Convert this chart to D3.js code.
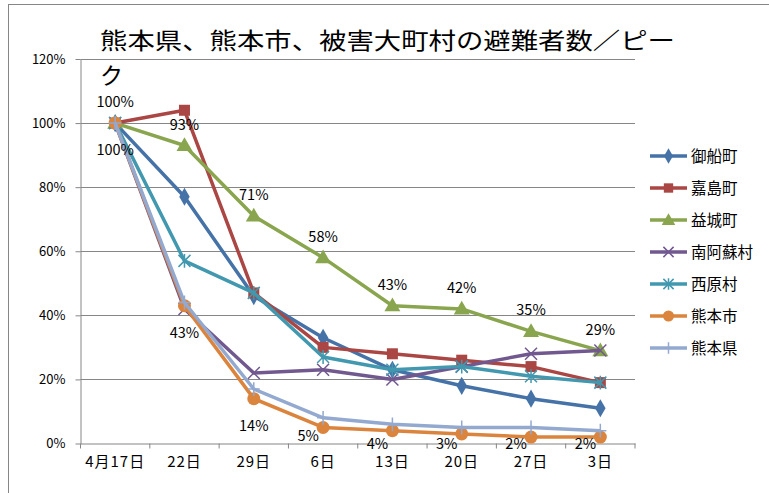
<!DOCTYPE html>
<html><head><meta charset="utf-8">
<script src="https://cdn.jsdelivr.net/npm/d3@7/dist/d3.min.js"></script>
<style>body{margin:0;background:#fff}svg{display:block}text{font-family:"Noto Sans CJK JP","Noto Sans",sans-serif}</style>
</head><body><div id="chart"></div>
<script>
const categories = ["4月17日","22日","29日","6日","13日","20日","27日","3日"];
const seriesNames = ["御船町","嘉島町","益城町","南阿蘇村","西原村","熊本市","熊本県"];
const mifune    = [100, 77, 46, 33, 23, 18, 14, 11];
const kashima   = [100, 104, 47, 30, 28, 26, 24, 19];
const mashiki   = [100, 93, 71, 58, 43, 42, 35, 29];
const minamiaso = [100, 42, 22, 23, 20, 24, 28, 29];
const nishihara = [100, 57, 47, 27, 23, 24, 21, 19];
const kumamotoCity = [100, 43, 14, 5, 4, 3, 2, 2];
const kumamotoPref = [100, 44, 17, 8, 6, 5, 5, 4];
const yTicks = [0, 20, 40, 60, 80, 100, 120];
const titleLine1 = "熊本県、熊本市、被害大町村の避難者数／ピー";
const titleLine2 = "ク";

const colors = ["#4572A7","#AA4643","#89A54E","#71588F","#4198AF","#DB843D","#93A9CF"];
const markers = ["diamond","square","triangle","x","asterisk","circle","plus"];
const values = [mifune,kashima,mashiki,minamiaso,nishihara,kumamotoCity,kumamotoPref];

(function () {
const W = 769, H = 493;
const svg = d3.select("#chart").append("svg").attr("width", W).attr("height", H);
svg.append("rect").attr("x",8.5).attr("y",4.5).attr("width",W+10).attr("height",H+10)
  .attr("fill","#fff").attr("stroke","#868686").attr("stroke-width",1);

const pL = 80.5, pR = 635, pT = 59, pB = 443.5;
const x = d3.scaleBand().domain(categories).range([pL, pR]);
const y = d3.scaleLinear().domain([0, 120]).range([pB, pT]);

// gridlines
svg.append("g").selectAll("line").data(yTicks.filter(d => d > 0)).join("line")
  .attr("x1", pL).attr("x2", pR)
  .attr("y1", d => Math.round(y(d)) + 0.5).attr("y2", d => Math.round(y(d)) + 0.5)
  .attr("stroke", "#868686").attr("stroke-width", 1);

// y axis
const yAxis = svg.append("g").attr("transform", `translate(${pL},0)`)
  .call(d3.axisLeft(y).tickValues(yTicks).tickFormat(d => d + "%").tickSize(5).tickSizeOuter(0));
yAxis.select(".domain").attr("stroke", "#868686");
yAxis.selectAll(".tick line").attr("stroke", "#868686");
yAxis.selectAll(".tick text").attr("font-size", 13).attr("fill", "#000").attr("x", -15)
  .attr("font-family", "'Open Sans','Noto Sans',sans-serif");

// x axis
const xAxis = svg.append("g").attr("transform", `translate(0,${pB})`)
  .call(d3.axisBottom(x).tickSize(0).tickSizeOuter(0));
xAxis.select(".domain").attr("stroke", "#868686");
xAxis.selectAll(".tick text").attr("font-size", 15).attr("letter-spacing", 1).attr("fill", "#000").attr("dy", "1.35em");
const bounds = categories.map(c => x(c)).concat([pR]);
svg.append("g").selectAll("line").data(bounds).join("line")
  .attr("x1", d => d).attr("x2", d => d).attr("y1", pB).attr("y2", pB + 5)
  .attr("stroke", "#868686");

const cx = i => x(categories[i]) + x.bandwidth() / 2;

function drawMarker(g, type, color, px, py, sc) {
  const s = sc || 1;
  if (type === "diamond") {
    g.append("path").attr("d", d3.symbol().type(d3.symbolDiamond).size(95 * s * s)())
      .attr("transform", `translate(${px},${py})`).attr("fill", color);
  } else if (type === "square") {
    const a = 11 * s;
    g.append("rect").attr("x", px - a / 2).attr("y", py - a / 2).attr("width", a).attr("height", a).attr("fill", color);
  } else if (type === "triangle") {
    g.append("path").attr("d", d3.symbol().type(d3.symbolTriangle).size(110 * s * s)())
      .attr("transform", `translate(${px},${py + 1})`).attr("fill", color);
  } else if (type === "circle") {
    g.append("circle").attr("cx", px).attr("cy", py).attr("r", 6.5 * s).attr("fill", color);
  } else {
    const r = 6 * s;
    let d = "";
    if (type === "x" || type === "asterisk") d += `M${px - r},${py - r}L${px + r},${py + r}M${px - r},${py + r}L${px + r},${py - r}`;
    if (type === "plus" || type === "asterisk") d += `M${px},${py - r * 1.15}L${px},${py + r * 1.15}` + (type === "plus" ? `M${px - r},${py}L${px + r},${py}` : "");
    g.append("path").attr("d", d).attr("stroke", color).attr("stroke-width", 1.5).attr("fill", "none");
  }
}

const line = d3.line().x((d, i) => cx(i)).y(d => y(d));
values.forEach((vals, k) => {
  const g = svg.append("g");
  g.append("path").datum(vals).attr("d", line).attr("fill", "none")
    .attr("stroke", colors[k]).attr("stroke-width", 3.5).attr("stroke-linejoin", "round");
  vals.forEach((v, i) => drawMarker(g, markers[k], colors[k], cx(i), y(v)));
});

// data labels (益城町 above, 熊本市 below)
const lab = svg.append("g").attr("font-size", 14.5).attr("fill", "#000").attr("text-anchor", "middle")
  .attr("font-family", "'Open Sans','Noto Sans',sans-serif");
mashiki.forEach((v, i) => {
  lab.append("text").attr("x", cx(i)).attr("y", y(v) - 16).text(v + "%");
});
kumamotoCity.forEach((v, i) => {
  let ly = y(v) + 32, lx = cx(i);
  if (ly > 444) { ly = Math.min(449, ly - 18 + (i - 3) * 5); lx -= 15; }
  lab.append("text").attr("x", lx).attr("y", ly).text(v + "%");
});

// title (wrapped into two lines)
svg.append("text").attr("font-size", 23).attr("fill", "#000").attr("x", 100).attr("y", 49)
  .attr("textLength", 575).attr("lengthAdjust", "spacingAndGlyphs").text(titleLine1);
svg.append("text").attr("font-size", 23).attr("fill", "#000").attr("x", 100).attr("y", 83.5)
  .text(titleLine2);

// legend
const leg = svg.append("g");
seriesNames.forEach((n, k) => {
  const ly = 156 + k * 32;
  leg.append("line").attr("x1", 650).attr("x2", 687).attr("y1", ly).attr("y2", ly)
    .attr("stroke", colors[k]).attr("stroke-width", 3.5);
  drawMarker(leg, markers[k], colors[k], 668.5, ly, 0.85);
  leg.append("text").attr("x", 691).attr("y", ly + 5.5).attr("font-size", 15.5).attr("fill", "#000").text(n);
});
})();
</script></body></html>
